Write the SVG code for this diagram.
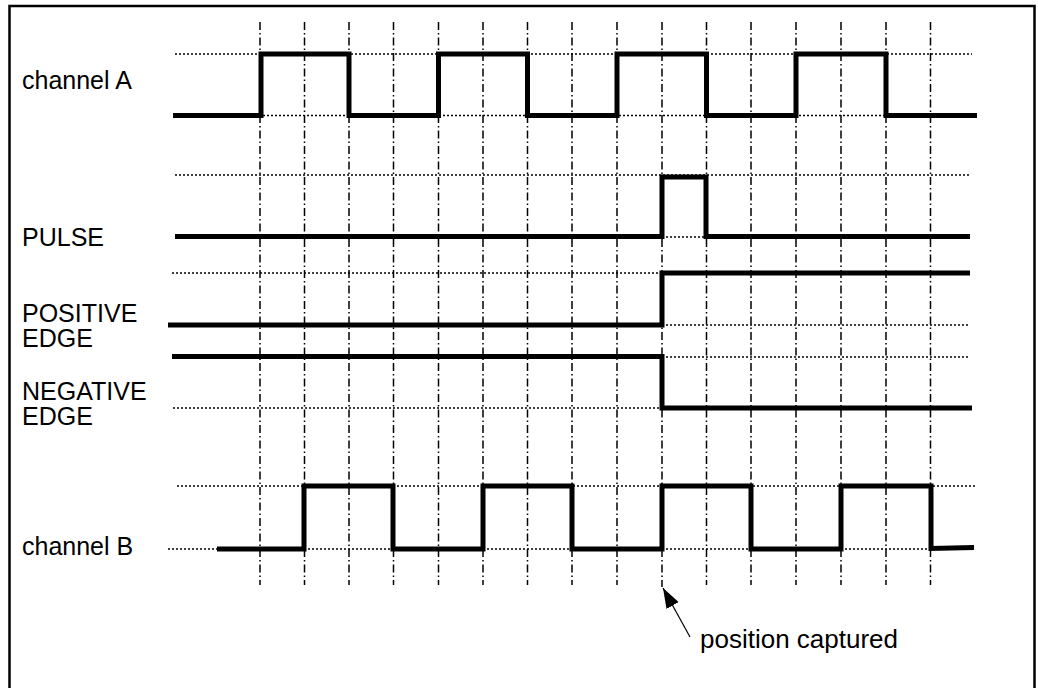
<svg xmlns="http://www.w3.org/2000/svg" width="1038" height="688" viewBox="0 0 1038 688">
<defs>
<style>
.frame{fill:#fff;stroke:#000;stroke-width:2.5}
.grid{stroke:#000;stroke-width:1.5;stroke-dasharray:8 3 1.5 3;fill:none}
.dot{stroke:#000;stroke-width:1.3;stroke-dasharray:2 2;fill:none}
.sig{stroke:#000;stroke-width:5;fill:none;stroke-linejoin:miter;stroke-linecap:butt}
.lbl{font-family:"Liberation Sans",Arial,sans-serif;font-size:25px;fill:#000}
</style>
<marker id="ah" viewBox="0 0 10 10" refX="9" refY="5" markerWidth="10" markerHeight="10" markerUnits="userSpaceOnUse" orient="auto">
<path d="M0,0 L10,5 L0,10 z" fill="#000"/>
</marker>
<marker id="ah2" viewBox="0 0 20 14" refX="20" refY="7" markerWidth="20" markerHeight="14" markerUnits="userSpaceOnUse" orient="auto">
<path d="M0,0 L20,7 L0,14 z" fill="#000"/>
</marker>
</defs>
<rect class="frame" x="9.5" y="6" width="1025" height="692"/>
<g id="grid">
<path class="grid" d="M260,22V585M304.5,22V585M349,22V585M393.5,22V585M438.5,22V585M483,22V585M527.5,22V585M572,22V585M617,22V585M662,22V587M706.5,22V585M751,22V585M796,22V585M841,22V585M886,22V585M930.5,22V585"/>
<path class="dot" d="M175,54H972M175,115.5H972M175,175H970M662,237H706M172,273H662M662,325H968M662,357H970M173,408H662M177,486H975M168,549H217M304,549H393M483,549H572M662,549H751M841,549H931"/>
</g>
<g id="channelA">
<text class="lbl" x="22" y="89">channel A</text>
<path class="sig" d="M173,115.5H261V54H349V115.5H438.5V54H527.5V115.5H617V54H706.5V115.5H796V54H886V115.5H977"/>
</g>
<g id="pulse">
<text class="lbl" x="22" y="246">PULSE</text>
<path class="sig" d="M175,236.5H662V177H706V236.5H970"/>
</g>
<g id="positiveEdge">
<text class="lbl" x="22" y="322">POSITIVE</text>
<text class="lbl" x="22" y="347">EDGE</text>
<path class="sig" d="M168,325H662V273H970"/>
</g>
<g id="negativeEdge">
<text class="lbl" x="22" y="400">NEGATIVE</text>
<text class="lbl" x="22" y="425">EDGE</text>
<path class="sig" d="M172,356.5H662V408H972"/>
</g>
<g id="channelB">
<text class="lbl" x="22" y="555">channel B</text>
<path class="sig" d="M217,549H304V486H393V549H483V486H572V549H662V486H751V549H841V486H931V548.5L974,547.5"/>
</g>
<g id="connectors">
<line x1="690" y1="637" x2="663" y2="588" stroke="#000" stroke-width="1.2" marker-end="url(#ah2)"/>
</g>
<g id="note">
<text class="lbl" x="700" y="648" style="font-size:26px">position captured</text>
</g>
</svg>
